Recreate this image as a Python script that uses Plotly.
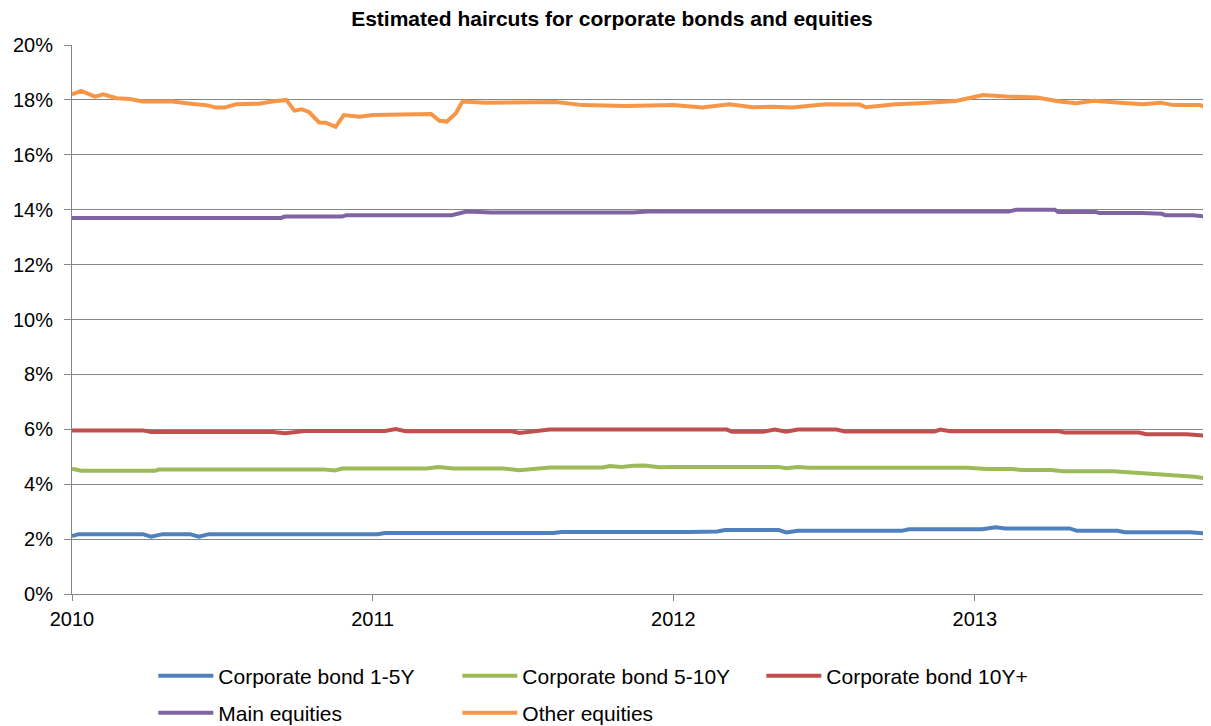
import plotly.graph_objects as go

title_text = "Estimated haircuts for corporate bonds and equities"

# Corporate bond 1-5Y
dates_b = ["2010-01-01","2010-01-09","2010-03-28","2010-04-07","2010-04-21","2010-05-24","2010-06-04","2010-06-16",
           "2011-01-07","2011-01-16","2011-08-08","2011-08-18","2012-01-21","2012-02-05","2012-02-23","2012-03-04",
           "2012-05-08","2012-05-17","2012-05-31","2012-10-04","2012-10-13","2013-01-10","2013-01-26","2013-02-07",
           "2013-04-26","2013-05-05","2013-06-23","2013-07-02","2013-09-19","2013-10-10"]
vals_b = [2.11,2.18,2.18,2.09,2.18,2.18,2.09,2.18,2.18,2.22,2.22,2.26,2.26,2.28,2.28,2.33,
          2.33,2.24,2.30,2.30,2.36,2.36,2.43,2.39,2.39,2.30,2.30,2.25,2.25,2.20]

# Corporate bond 5-10Y
dates_g = ["2010-01-01","2010-01-12","2010-04-12","2010-04-17","2010-11-02","2010-11-16","2010-11-25","2011-03-07",
           "2011-03-22","2011-04-09","2011-06-09","2011-06-28","2011-08-04","2011-10-07","2011-10-16","2011-10-30",
           "2011-11-13","2011-11-27","2011-12-15","2012-01-01","2012-05-08","2012-05-17","2012-05-31","2012-06-14",
           "2012-12-23","2013-01-15","2013-02-15","2013-02-28","2013-04-04","2013-04-18","2013-06-18","2013-07-10",
           "2013-08-14","2013-09-06","2013-09-25","2013-10-10"]
vals_g = [4.56,4.49,4.49,4.54,4.54,4.50,4.57,4.57,4.63,4.57,4.57,4.51,4.61,4.61,4.66,4.63,
          4.67,4.68,4.62,4.63,4.63,4.58,4.63,4.60,4.60,4.55,4.55,4.52,4.52,4.47,4.47,4.42,
          4.36,4.32,4.27,4.20]

# Corporate bond 10Y+
dates_r = ["2010-01-01","2010-03-28","2010-04-07","2010-09-02","2010-09-17","2010-10-10","2011-01-16","2011-01-29",
           "2011-02-10","2011-06-19","2011-06-28","2011-08-04","2012-03-06","2012-03-12","2012-04-19","2012-05-03",
           "2012-05-17","2012-05-31","2012-07-17","2012-07-27","2012-11-13","2012-11-20","2012-12-02","2013-04-13",
           "2013-04-20","2013-07-19","2013-07-28","2013-09-15","2013-10-10"]
vals_r = [5.96,5.96,5.90,5.90,5.86,5.94,5.94,6.01,5.93,5.93,5.87,5.99,5.99,5.91,5.91,5.99,
          5.91,5.99,5.99,5.92,5.92,5.99,5.93,5.93,5.88,5.88,5.82,5.82,5.76]

# Main equities
dates_p = ["2010-01-01","2010-09-12","2010-09-16","2010-11-25","2010-11-30","2011-04-07","2011-04-25","2011-05-25",
           "2011-11-13","2011-12-01","2013-02-11","2013-02-20","2013-04-08","2013-04-12","2013-05-27","2013-06-01",
           "2013-07-23","2013-08-16","2013-08-20","2013-09-23","2013-10-10"]
vals_p = [13.70,13.70,13.75,13.75,13.80,13.80,13.93,13.90,13.90,13.93,13.93,14.00,14.00,13.92,13.92,13.88,
          13.88,13.85,13.80,13.80,13.74]

# Other equities
dates_o = ["2010-01-01","2010-01-12","2010-01-29","2010-02-08","2010-02-24","2010-03-12","2010-03-28","2010-05-03",
           "2010-05-28","2010-06-13","2010-06-25","2010-07-05","2010-07-19","2010-08-16","2010-09-01","2010-09-18",
           "2010-09-28","2010-10-07","2010-10-16","2010-10-28","2010-11-05","2010-11-17","2010-11-27","2010-12-16",
           "2011-01-01","2011-03-13","2011-03-23","2011-04-01","2011-04-12","2011-04-20","2011-05-18","2011-08-11",
           "2011-09-13","2011-11-04","2012-01-01","2012-02-05","2012-03-09","2012-04-06","2012-04-30","2012-05-24",
           "2012-07-04","2012-08-14","2012-08-22","2012-09-27","2012-10-26","2012-12-09","2013-01-11","2013-02-08",
           "2013-03-17","2013-04-14","2013-05-04","2013-05-25","2013-06-26","2013-07-24","2013-08-14","2013-08-30",
           "2013-10-01","2013-10-09"]
vals_o = [18.20,18.33,18.12,18.20,18.06,18.03,17.94,17.94,
          17.85,17.81,17.72,17.72,17.84,17.86,17.94,18.00,
          17.61,17.66,17.55,17.18,17.17,17.02,17.45,17.39,
          17.45,17.49,17.24,17.21,17.51,17.94,17.90,17.92,
          17.81,17.78,17.81,17.72,17.84,17.73,17.75,17.72,
          17.84,17.83,17.73,17.84,17.88,17.96,18.18,18.12,
          18.09,17.94,17.88,17.97,17.90,17.84,17.90,17.81,
          17.81,17.73]

series = [
    ("Corporate bond 1-5Y", dates_b, vals_b, "#4F81BD", "legend"),
    ("Corporate bond 5-10Y", dates_g, vals_g, "#9BBB59", "legend"),
    ("Corporate bond 10Y+", dates_r, vals_r, "#C0504D", "legend"),
    ("Main equities", dates_p, vals_p, "#8064A2", "legend2"),
    ("Other equities", dates_o, vals_o, "#F79646", "legend2"),
]

fig = go.Figure()
for name, d, v, c, lg in series:
    fig.add_trace(go.Scatter(x=d, y=v, name=name, mode="lines",
                             line=dict(color=c, width=4), legend=lg))

W, H = 1211, 726
font_family = "Liberation Sans, Arial, sans-serif"
legend_common = dict(orientation="h", xanchor="left", yanchor="middle",
                     xref="container", yref="container",
                     entrywidth=234, entrywidthmode="pixels", itemwidth=55,
                     font=dict(family=font_family, size=21, color="#000000"),
                     bgcolor="rgba(0,0,0,0)", traceorder="normal")

fig.update_layout(
    width=W, height=H,
    margin=dict(l=64, r=11, t=37, b=140, autoexpand=False),
    paper_bgcolor="white", plot_bgcolor="white",
    font=dict(family=font_family, size=20, color="#000000"),
    title=dict(text="<b>" + title_text + "</b>", x=604 / W, xref="container", xanchor="center",
               y=1 - 3 / H, yref="container", yanchor="top",
               font=dict(family=font_family, size=21, color="#000000")),
    legend=dict(x=0.12, y=1 - 668 / H, **legend_common),
    legend2=dict(x=0.12, y=1 - 705 / H, **legend_common),
    showlegend=True,
)

fig.update_xaxes(type="date", range=["2010-01-01", "2013-10-11"],
                 tick0="2010-01-01", dtick="M12", tickformat="%Y",
                 showgrid=False, showline=True, linecolor="#868686", linewidth=1,
                 ticks="outside", ticklen=6, tickcolor="#868686",
                 ticklabelstandoff=1,
                 tickfont=dict(family=font_family, size=20, color="#000000"),
                 zeroline=False, fixedrange=True)
fig.update_yaxes(range=[0, 20], tick0=0, dtick=2, ticksuffix="%",
                 showgrid=True, gridcolor="#868686", gridwidth=1,
                 showline=True, linecolor="#868686", linewidth=1,
                 ticks="outside", ticklen=7, tickcolor="#868686",
                 ticklabelstandoff=7,
                 tickfont=dict(family=font_family, size=20, color="#000000"),
                 zeroline=False, fixedrange=True)

fig.write_html("out.html")
